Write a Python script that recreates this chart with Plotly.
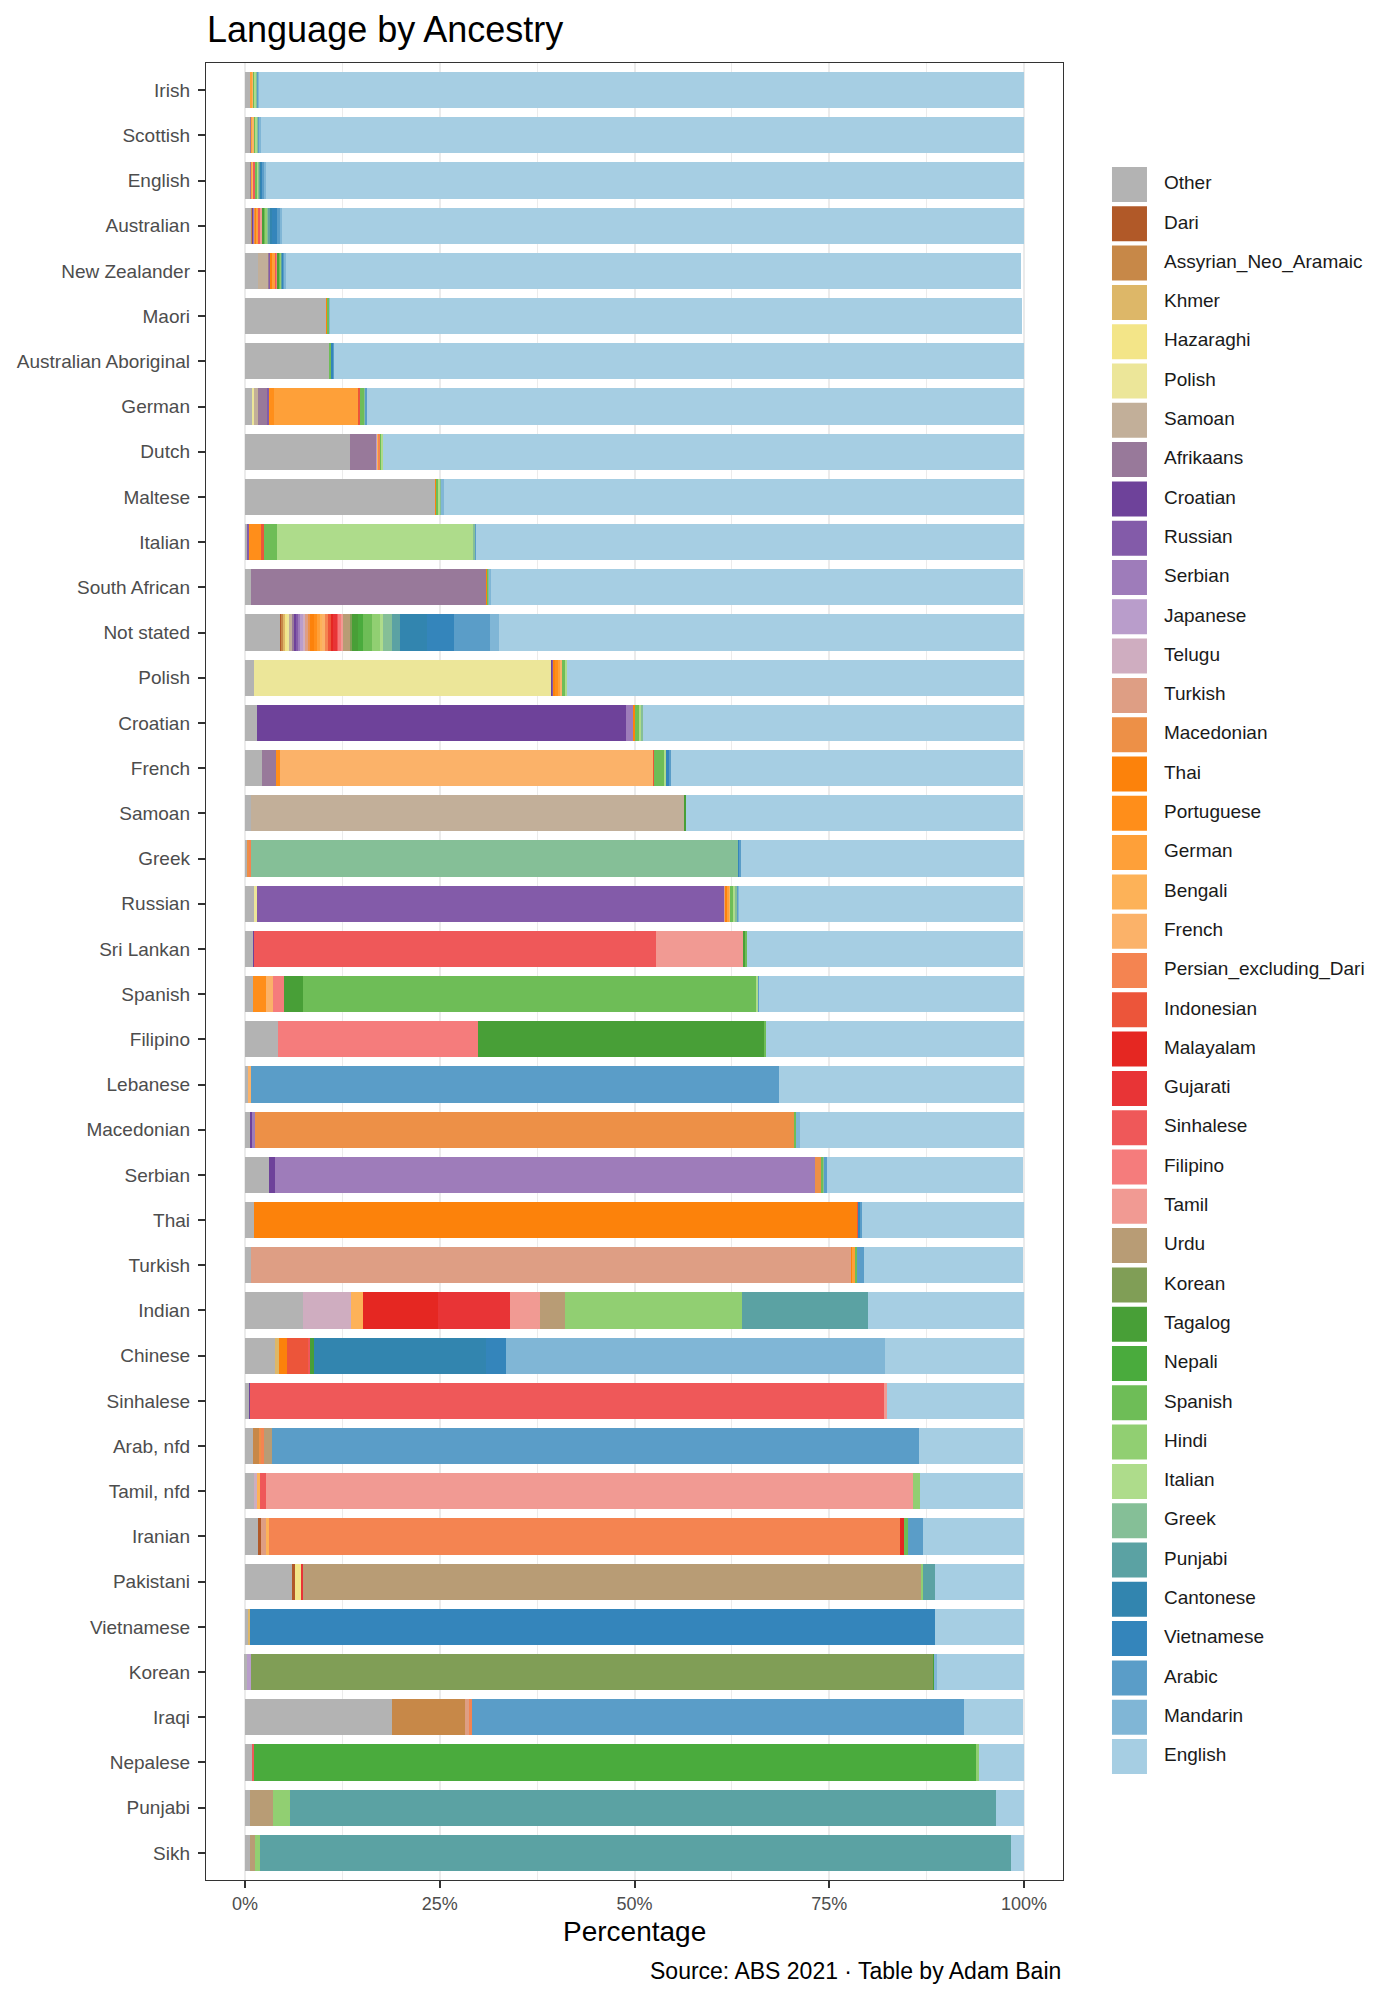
import plotly.graph_objects as go

# ancestry groups, top to bottom
ancestries = [
    "Irish", "Scottish", "English", "Australian", "New Zealander", "Maori",
    "Australian Aboriginal", "German", "Dutch", "Maltese", "Italian",
    "South African", "Not stated", "Polish", "Croatian", "French", "Samoan",
    "Greek", "Russian", "Sri Lankan", "Spanish", "Filipino", "Lebanese",
    "Macedonian", "Serbian", "Thai", "Turkish", "Indian", "Chinese",
    "Sinhalese", "Arab, nfd", "Tamil, nfd", "Iranian", "Pakistani",
    "Vietnamese", "Korean", "Iraqi", "Nepalese", "Punjabi", "Sikh",
]

# percentage of each ancestry speaking the language at home
other = [0.65, 0.65, 0.65, 0.85, 1.7, 10.5, 10.8, 1.0, 13.5, 24.4,
         0.35, 0.8, 4.5, 1.1, 1.5, 2.2, 0.8, 0.3, 1.25, 1.1,
         1.0, 4.25, 0.45, 0.65, 3.1, 1.1, 0.8, 7.45, 3.9, 0.6,
         1.0, 1.1, 1.65, 6.15, 0.45, 0.25, 18.85, 1.0, 0.65, 0.65]
english = [98.2, 98.0, 97.25, 95.25, 94.35, 88.8, 88.6, 84.3, 82.3, 74.5,
           70.3, 68.25, 67.4, 58.65, 48.9, 45.15, 43.3, 36.35, 36.4, 35.5,
           34.0, 33.1, 31.5, 28.75, 25.25, 20.8, 20.3, 20.05, 17.9, 17.6,
           13.45, 13.2, 13.0, 11.5, 11.45, 11.15, 7.6, 5.75, 3.6, 1.7]

dari = {"Not stated": 0.25, "Iranian": 0.35, "Pakistani": 0.25}
assyrian = {"Australian": 0.1, "Not stated": 0.15, "Arab, nfd": 0.75, "Iraqi": 9.35}
khmer = {"Not stated": 0.35, "Chinese": 0.5, "Vietnamese": 0.25}
hazaraghi = {"Not stated": 0.2, "Pakistani": 0.85}
polish = {"Australian Aboriginal": 0.1, "German": 0.2, "Not stated": 0.25,
          "Polish": 38.3, "Russian": 0.25}
samoan = {"Scottish": 0.05, "New Zealander": 1.3, "German": 0.45,
          "Not stated": 0.4, "Samoan": 55.6}
afrikaans = {"Irish": 0.1, "Scottish": 0.1, "English": 0.15, "New Zealander": 0.2,
             "German": 1.3, "Dutch": 3.4, "South African": 30.2,
             "Not stated": 0.2, "French": 1.8}
croatian = {"Australian": 0.15, "Not stated": 0.3, "Polish": 0.1, "Croatian": 47.35,
            "Sri Lankan": 0.1, "Macedonian": 0.2, "Serbian": 0.75, "Sinhalese": 0.1}
russian = {"New Zealander": 0.1, "German": 0.15, "Italian": 0.15, "Not stated": 0.3,
           "Polish": 0.15, "Russian": 60.1}
serbian = {"Australian": 0.15, "Not stated": 0.2, "Croatian": 0.95,
           "Macedonian": 0.45, "Serbian": 69.3}
japanese = {"Dutch": 0.1, "Not stated": 0.3, "Indian": 0.05, "Korean": 0.55}
telugu = {"Not stated": 0.3, "Indian": 6.1, "Tamil, nfd": 0.5}
turkish = {"Not stated": 0.4, "Russian": 0.1, "Turkish": 77.0, "Iranian": 0.7,
           "Iraqi": 0.5}
macedonian = {"Australian": 0.1, "Not stated": 0.3, "Greek": 0.3, "Macedonian": 69.2,
              "Serbian": 0.85, "Arab, nfd": 0.3}
thai = {"Australian": 0.15, "New Zealander": 0.2, "Maori": 0.15, "Maltese": 0.2,
        "South African": 0.15, "Not stated": 0.45, "Polish": 0.25, "Croatian": 0.3,
        "Russian": 0.2, "Thai": 77.5, "Turkish": 0.2, "Chinese": 0.95}
portuguese = {"German": 0.65, "Italian": 1.6, "Not stated": 0.45, "Polish": 0.25,
              "French": 0.45, "Spanish": 1.75}
german = {"Irish": 0.2, "Scottish": 0.2, "English": 0.2, "Australian": 0.2,
          "New Zealander": 0.4, "German": 10.85, "Not stated": 0.3, "Polish": 0.3,
          "Russian": 0.25, "Turkish": 0.25}
bengali = {"Dutch": 0.2, "Not stated": 0.3, "Russian": 0.15, "Indian": 1.5,
           "Tamil, nfd": 0.3, "Iranian": 0.4}
french = {"Irish": 0.15, "Scottish": 0.2, "English": 0.15, "Not stated": 0.35,
          "Polish": 0.25, "French": 48.0, "Spanish": 0.85, "Lebanese": 0.35}
persian = {"Dutch": 0.15, "Not stated": 0.45, "Greek": 0.2, "Arab, nfd": 0.35,
           "Iranian": 81.0, "Iraqi": 0.5}
indonesian = {"Australian": 0.1, "German": 0.15, "Italian": 0.35, "Not stated": 0.3,
              "French": 0.1, "Thai": 0.1, "Chinese": 2.75}
malayalam = {"Not stated": 0.3, "Indian": 9.65, "Iranian": 0.45}
gujarati = {"Not stated": 0.45, "Indian": 9.25, "Pakistani": 0.25}
sinhalese = {"English": 0.15, "Australian": 0.15, "New Zealander": 0.15,
             "Not stated": 0.3, "Sri Lankan": 51.5, "Chinese": 0.2, "Sinhalese": 81.3,
             "Tamil, nfd": 0.75, "Nepalese": 0.2}
filipino = {"Australian": 0.1, "New Zealander": 0.15, "Not stated": 0.25,
            "Spanish": 1.4, "Filipino": 25.65}
tamil = {"Australian": 0.1, "Not stated": 0.3, "Sri Lankan": 11.3, "Indian": 3.85,
         "Sinhalese": 0.4, "Tamil, nfd": 83.15}
urdu = {"Not stated": 0.9, "Indian": 3.2, "Arab, nfd": 1.05, "Pakistani": 79.3,
        "Punjabi": 2.95, "Sikh": 0.6}
korean = {"Not stated": 0.3, "Korean": 87.55}
tagalog = {"English": 0.1, "Australian": 0.35, "New Zealander": 0.2, "Not stated": 0.7,
           "Samoan": 0.2, "Sri Lankan": 0.2, "Spanish": 2.5, "Filipino": 36.8,
           "Chinese": 0.55, "Korean": 0.1}
nepali = {"Not stated": 0.7, "Nepalese": 92.65}
spanish = {"Irish": 0.15, "Scottish": 0.15, "English": 0.15, "Australian": 0.2,
           "New Zealander": 0.2, "Maori": 0.15, "Australian Aboriginal": 0.15,
           "German": 0.6, "Dutch": 0.2, "Maltese": 0.2, "Italian": 1.6,
           "South African": 0.15, "Not stated": 1.1, "Polish": 0.4, "Croatian": 0.5,
           "French": 1.3, "Russian": 0.3, "Sri Lankan": 0.2, "Spanish": 58.05,
           "Filipino": 0.2, "Macedonian": 0.2, "Serbian": 0.2, "Turkish": 0.35,
           "Iranian": 0.5}
hindi = {"English": 0.1, "Australian": 0.15, "New Zealander": 0.15, "Not stated": 1.0,
         "Indian": 22.8, "Tamil, nfd": 0.9, "Pakistani": 0.2, "Nepalese": 0.4,
         "Punjabi": 2.15, "Sikh": 0.65}
italian = {"Irish": 0.25, "Scottish": 0.25, "English": 0.15, "Dutch": 0.15,
           "Maltese": 0.3, "Italian": 25.3, "Not stated": 0.4, "Polish": 0.25,
           "Croatian": 0.3, "French": 0.25, "Russian": 0.3, "Spanish": 0.3}
greek = {"Irish": 0.1, "Scottish": 0.1, "English": 0.1, "Australian": 0.2,
         "Australian Aboriginal": 0.1, "German": 0.15, "Maltese": 0.15, "Italian": 0.25,
         "South African": 0.1, "Not stated": 1.15, "Croatian": 0.2, "Greek": 62.6,
         "Russian": 0.3, "Serbian": 0.15}
punjabi = {"Irish": 0.05, "Scottish": 0.05, "English": 0.1, "Australian": 0.2,
           "New Zealander": 0.1, "Not stated": 1.05, "Indian": 16.1, "Pakistani": 1.5,
           "Punjabi": 90.65, "Sikh": 96.4}
cantonese = {"English": 0.15, "Australian": 0.25, "Not stated": 3.4, "Chinese": 22.05}
vietnamese = {"Scottish": 0.05, "English": 0.1, "Australian": 0.6, "New Zealander": 0.1,
              "Australian Aboriginal": 0.15, "Not stated": 3.5, "French": 0.3,
              "Greek": 0.1, "Thai": 0.2, "Chinese": 2.55, "Vietnamese": 87.85}
arabic = {"Irish": 0.05, "Scottish": 0.05, "English": 0.2, "Australian": 0.4,
          "New Zealander": 0.1, "Australian Aboriginal": 0.1, "German": 0.2,
          "Italian": 0.1, "Not stated": 4.6, "French": 0.3, "Greek": 0.15,
          "Russian": 0.1, "Spanish": 0.15, "Lebanese": 67.7, "Serbian": 0.3,
          "Thai": 0.3, "Turkish": 0.9, "Arab, nfd": 83.0, "Iranian": 1.95,
          "Iraqi": 63.05}
mandarin = {"Irish": 0.1, "Scottish": 0.15, "English": 0.3, "Australian": 0.25,
            "New Zealander": 0.2, "Maori": 0.1, "Maltese": 0.25, "South African": 0.15,
            "Not stated": 1.2, "Russian": 0.1, "Macedonian": 0.55, "Chinese": 48.65,
            "Korean": 0.4}

# stack order, left to right (also legend order, top to bottom)
languages = [
    "Other", "Dari", "Assyrian_Neo_Aramaic", "Khmer", "Hazaraghi", "Polish",
    "Samoan", "Afrikaans", "Croatian", "Russian", "Serbian", "Japanese", "Telugu",
    "Turkish", "Macedonian", "Thai", "Portuguese", "German", "Bengali", "French",
    "Persian_excluding_Dari", "Indonesian", "Malayalam", "Gujarati", "Sinhalese",
    "Filipino", "Tamil", "Urdu", "Korean", "Tagalog", "Nepali", "Spanish", "Hindi",
    "Italian", "Greek", "Punjabi", "Cantonese", "Vietnamese", "Arabic", "Mandarin",
    "English",
]
series = [
    other, dari, assyrian, khmer, hazaraghi, polish, samoan, afrikaans, croatian,
    russian, serbian, japanese, telugu, turkish, macedonian, thai, portuguese,
    german, bengali, french, persian, indonesian, malayalam, gujarati, sinhalese,
    filipino, tamil, urdu, korean, tagalog, nepali, spanish, hindi, italian, greek,
    punjabi, cantonese, vietnamese, arabic, mandarin, english,
]

x_ticks = [0, 25, 50, 75, 100]
x_tick_labels = ["0%", "25%", "50%", "75%", "100%"]

PAIRED = ["#A6CEE3", "#1F78B4", "#B2DF8A", "#33A02C", "#FB9A99", "#E31A1C",
          "#FDBF6F", "#FF7F00", "#CAB2D6", "#6A3D9A", "#FFFF99", "#B15928"]


def ramp(hexes, n):
    """Linear RGB ramp, like R's colorRampPalette."""
    rgb = [tuple(int(h[i:i + 2], 16) for i in (1, 3, 5)) for h in hexes]
    out = []
    for k in range(n):
        t = k / (n - 1) * (len(rgb) - 1)
        i = min(int(t), len(rgb) - 2)
        f = t - i
        c = [round(a + (b - a) * f) for a, b in zip(rgb[i], rgb[i + 1])]
        out.append("#%02X%02X%02X" % tuple(c))
    return out


lang_ramp = ramp(PAIRED, len(languages) - 1)  # index 0 = English
colors = ["#B3B3B3"] + [lang_ramp[len(languages) - 1 - j] for j in range(1, len(languages))]


def as_row(s):
    if isinstance(s, dict):
        return [s.get(a, 0) for a in ancestries]
    return list(s)


FONT = "Liberation Sans, Arial, sans-serif"

fig = go.Figure()

for name, s, color in zip(languages, series, colors):
    fig.add_trace(
        go.Bar(
            y=ancestries,
            x=as_row(s),
            name=name,
            orientation="h",
            width=0.8,
            marker=dict(color=color, line=dict(width=0)),
            showlegend=False,
            hovertemplate="%{y}<br>" + name + ": %{x:.2f}%<extra></extra>",
        )
    )

# hand-built legend: big swatches on their own little axis
fig.add_trace(
    go.Scatter(
        x=[0.1036] * len(languages),
        y=languages,
        xaxis="x2",
        yaxis="y2",
        mode="markers",
        marker=dict(symbol="square", size=35, color=colors, line=dict(width=0)),
        showlegend=False,
        hoverinfo="skip",
    )
)
fig.add_trace(
    go.Scatter(
        x=[0.2171] * len(languages),
        y=languages,
        xaxis="x2",
        yaxis="y2",
        mode="text",
        text=languages,
        textposition="middle right",
        textfont=dict(family=FONT, size=19, color="#1A1A1A"),
        cliponaxis=False,
        showlegend=False,
        hoverinfo="skip",
    )
)

fig.update_layout(
    width=1400,
    height=2000,
    barmode="stack",
    paper_bgcolor="white",
    plot_bgcolor="white",
    font=dict(family=FONT, color="#000000"),
    margin=dict(l=198, r=6, t=55, b=128),
    title=dict(
        text="Language by Ancestry",
        font=dict(family=FONT, size=36, color="#000000"),
        xref="container", x=199 / 1400, xanchor="left",
        yref="container", y=0.9895, yanchor="middle",
    ),
    xaxis=dict(
        domain=[0, 0.7166],
        range=[-5, 105],
        tickvals=x_ticks,
        ticktext=x_tick_labels,
        tickfont=dict(family=FONT, size=18, color="#4D4D4D"),
        ticks="outside", ticklen=7, tickwidth=2, tickcolor="#333333",
        ticklabelstandoff=0,
        showgrid=True, gridcolor="#EBEBEB", gridwidth=1.8,
        minor=dict(tickvals=[12.5, 37.5, 62.5, 87.5], showgrid=True,
                   gridcolor="#EBEBEB", gridwidth=1.0, ticks=""),
        zeroline=False,
        showline=True, linecolor="#333333", linewidth=1.4, mirror=True,
        fixedrange=True,
    ),
    yaxis=dict(
        type="category",
        categoryorder="array",
        categoryarray=ancestries,
        range=[39.6, -0.6],
        tickfont=dict(family=FONT, size=19, color="#4D4D4D"),
        ticks="outside", ticklen=7, tickwidth=2, tickcolor="#333333",
        ticklabelstandoff=4,
        showgrid=False,
        zeroline=False,
        showline=True, linecolor="#333333", linewidth=1.4, mirror=True,
        fixedrange=True,
    ),
    xaxis2=dict(domain=[0.7458, 1.0], range=[0, 1], visible=False, fixedrange=True),
    yaxis2=dict(anchor="x2", type="category", categoryorder="array",
                categoryarray=languages, range=[43.142, -3.092],
                visible=False, fixedrange=True),
    annotations=[
        dict(text="Percentage", xref="paper", yref="paper", x=0.3583, y=-0.0283,
             xanchor="center", yanchor="middle", showarrow=False,
             font=dict(family=FONT, size=28, color="#000000")),
        dict(text="Source: ABS 2021 · Table by Adam Bain", xref="paper", yref="paper",
             x=0.7166, y=-0.0501, xanchor="right", yanchor="middle", showarrow=False,
             font=dict(family=FONT, size=23, color="#000000")),
    ],
)

fig.write_html("out.html")
